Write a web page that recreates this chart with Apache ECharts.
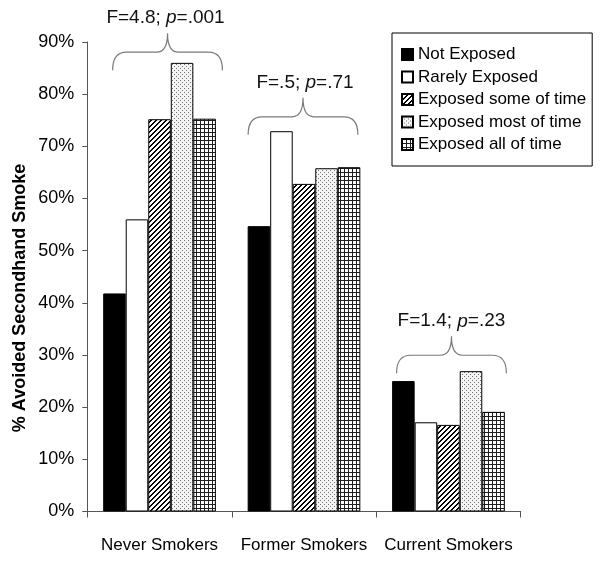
<!DOCTYPE html>
<html><head><meta charset="utf-8">
<script src="https://cdn.jsdelivr.net/npm/echarts@6/dist/echarts.min.js"></script>
<style>html,body{margin:0;padding:0;background:#fff}#c{width:600px;height:562px}</style>
</head><body><div id="c"></div>
<script>
const categories = ['Never Smokers', 'Former Smokers', 'Current Smokers'];
const seriesNames = ['Not Exposed', 'Rarely Exposed', 'Exposed some of time', 'Exposed most of time', 'Exposed all of time'];
const notExposed = [41.8, 54.7, 25.0];
const rarelyExposed = [56.0, 72.9, 17.1];
const someOfTime = [75.2, 62.8, 16.6];
const mostOfTime = [86.0, 65.8, 26.9];
const allOfTime = [75.3, 66.0, 19.1];
const yTicks = [0, 10, 20, 30, 40, 50, 60, 70, 80, 90];
const statF = ['4.8', '.5', '1.4'];
const statP = ['.001', '.71', '.23'];
const braceBase = [84.6, 72.2, 26.5];
const yAxisTitle = '% Avoided Secondhand Smoke';

const FONT = "'Liberation Sans', Arial, sans-serif";

function makePattern(size, fn) {
  const c = document.createElement('canvas');
  c.width = c.height = size;
  const ctx = c.getContext('2d');
  const img = ctx.createImageData(size, size);
  for (let y = 0; y < size; y++) for (let x = 0; x < size; x++) {
    const v = fn(x, y); const i = (y * size + x) * 4;
    img.data[i] = img.data[i + 1] = img.data[i + 2] = v; img.data[i + 3] = 255;
  }
  ctx.putImageData(img, 0, 0);
  return { image: c, repeat: 'repeat' };
}
const hatch = makePattern(5, (x, y) => ((x + y) % 5 < 2 ? 0 : 255));
const dots = makePattern(4, (x, y) => ((x === 0 && y === 0) || (x === 2 && y === 2) ? 110 : 245));
const grid = makePattern(4, (x, y) => (x % 4 === 0 || y % 4 === 0 ? 30 : 255));

const fills = ['#000', '#fff', hatch, dots, grid];
const values = [notExposed, rarelyExposed, someOfTime, mostOfTime, allOfTime];

const braceShift = [8, -1, 3];
const textShift = [6, 1, 3];

const chart = echarts.init(document.getElementById('c'), null, { renderer: 'canvas' });
const series = seriesNames.map((n, i) => ({
  name: n, type: 'bar', data: values[i], barGap: '0%', barCategoryGap: '22%',
  itemStyle: { color: fills[i], borderColor: '#000', borderWidth: 1 },
  emphasis: { disabled: true }
}));
series.push({
  type: 'custom', name: 'brace', clip: false, z: 5,
  data: categories.map((c, i) => [i, braceBase[i]]),
  renderItem: function (params, api) {
    const idx = api.value(0);
    const p = api.coord([idx, api.value(1)]);
    const cw = api.size([1, 0])[0];
    const half = cw * 0.38;
    const xc = p[0] + braceShift[idx];
    const x0 = xc - half, x1 = xc + half;
    const yE = p[1], yM = yE - 18, yT = yE - 37;
    const d = `M${x0},${yE} Q${x0},${yM} ${x0 + 14},${yM} L${xc - 11},${yM} Q${xc},${yM} ${xc},${yT} Q${xc},${yM} ${xc + 11},${yM} L${x1 - 14},${yM} Q${x1},${yM} ${x1},${yE}`;
    return {
      type: 'group', children: [
        { type: 'path', shape: { pathData: d }, style: { fill: null, stroke: '#7a7a7a', lineWidth: 1.2 } },
        { type: 'text', x: p[0] + textShift[idx], y: yT - 15,
          style: { text: 'F=' + statF[idx] + '; {i|p}=' + statP[idx], rich: { i: { fontStyle: 'italic', fontSize: 19, fontFamily: FONT, fill: '#111' } },
            fontSize: 19, fontFamily: FONT, fill: '#111', align: 'center', verticalAlign: 'middle' } }
      ]
    };
  }
});

chart.setOption({
  animation: false,
  backgroundColor: '#fff',
  grid: { left: 87.3, right: 79.3, top: 42, bottom: 50.5, containLabel: false },
  legend: {
    data: seriesNames, orient: 'vertical', left: 392, top: 33,
    padding: [13, 6, 13, 9], itemGap: 5.5, itemWidth: 11, itemHeight: 11, itemTextGap: 6,
    borderColor: '#000', borderWidth: 1, icon: 'rect',
    textStyle: { fontSize: 17, fontFamily: FONT, color: '#000', lineHeight: 17 },
    selectedMode: false
  },
  graphic: [{
    type: 'text', x: 20, y: 298, rotation: Math.PI / 2,
    style: { text: yAxisTitle, fontSize: 18, fontWeight: 'bold', fontFamily: FONT, fill: '#000', align: 'center', verticalAlign: 'middle' }
  }],
  xAxis: {
    type: 'category', data: categories,
    axisLine: { lineStyle: { color: '#555', width: 1 } },
    axisTick: { show: true, length: 6, lineStyle: { color: '#555' } },
    axisLabel: { fontSize: 17, fontFamily: FONT, color: '#000', margin: 25, interval: 0 }
  },
  yAxis: {
    type: 'value', min: 0, max: 90, interval: 10,
    axisLine: { show: true, lineStyle: { color: '#555', width: 1 } },
    axisTick: { show: true, length: 5, lineStyle: { color: '#555' } },
    splitLine: { show: false },
    axisLabel: { fontSize: 18, fontFamily: FONT, color: '#000', margin: 13,
      formatter: v => (yTicks.includes(v) ? v + '%' : '') }
  },
  series: series
});
</script></body></html>
